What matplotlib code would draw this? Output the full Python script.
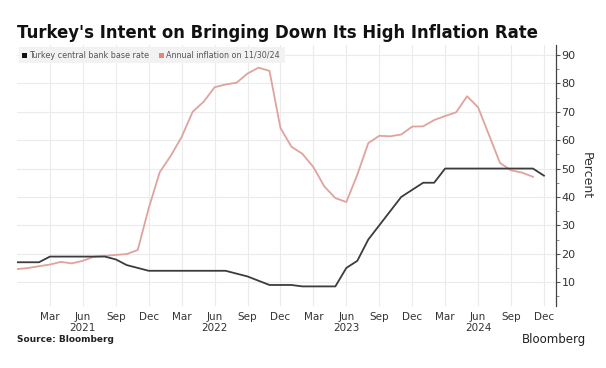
import matplotlib
matplotlib.use("Agg")
import matplotlib.pyplot as plt
from matplotlib.ticker import MultipleLocator
from matplotlib.patches import Rectangle

# Monthly data, Dec 2020 .. Dec 2024
base_rate = [17,
             17, 17, 19, 19, 19, 19, 19, 19, 18, 16, 15, 14,
             14, 14, 14, 14, 14, 14, 14, 13, 12, 10.5, 9, 9,
             9, 8.5, 8.5, 8.5, 8.5, 15, 17.5, 25, 30, 35, 40, 42.5,
             45, 45, 50, 50, 50, 50, 50, 50, 50, 50, 50, 47.5]
inflation = [14.6,
             14.97, 15.61, 16.19, 17.14, 16.59, 17.53, 18.95, 19.25, 19.58, 19.89, 21.31, 36.08,
             48.69, 54.44, 61.14, 69.97, 73.50, 78.62, 79.60, 80.21, 83.45, 85.51, 84.39, 64.27,
             57.68, 55.18, 50.51, 43.68, 39.59, 38.21, 47.83, 58.94, 61.53, 61.36, 61.98, 64.77,
             64.86, 67.07, 68.50, 69.80, 75.45, 71.60, 61.78, 51.97, 49.38, 48.58, 47.09]
tick_pos = [3, 6, 9, 12, 15, 18, 21, 24, 27, 30, 33, 36, 39, 42, 45, 48]
tick_labels = ["Mar", "Jun\n2021", "Sep", "Dec", "Mar", "Jun\n2022", "Sep", "Dec",
               "Mar", "Jun\n2023", "Sep", "Dec", "Mar", "Jun\n2024", "Sep", "Dec"]
y_ticks = [10, 20, 30, 40, 50, 60, 70, 80, 90]

W, H = 606, 368
fig = plt.figure(figsize=(W / 100, H / 100), dpi=100)
ax = fig.add_axes([17 / W, 1 - 306 / H, (556 - 17) / W, (306 - 45) / H])

ax.plot(range(len(inflation)), inflation, color="#dfa39e", lw=1.3, zorder=3)
ax.plot(range(len(base_rate)), base_rate, color="#3c3c3c", lw=1.3, zorder=4)

ax.set_xlim(0, 49.1)
ax.set_ylim(1.6, 93.5)

ax.yaxis.tick_right()
ax.yaxis.set_label_position("right")
ax.set_yticks(y_ticks)
ax.set_yticklabels([str(v) for v in y_ticks])
ax.yaxis.set_minor_locator(MultipleLocator(5))
ax.tick_params(axis="y", which="major", direction="out", length=3, width=0.8,
               color="#555555", labelsize=8, labelcolor="#333333", pad=1)
ax.tick_params(axis="y", which="minor", direction="out", length=2, width=0.6, color="#777777")

ax.set_xticks(tick_pos)
ax.set_xticklabels(tick_labels)
ax.tick_params(axis="x", length=0, labelsize=7.5, labelcolor="#333333", pad=4)

ax.grid(True, color="#ebebeb", lw=0.8, zorder=0)
for s in ["top", "left", "bottom"]:
    ax.spines[s].set_visible(False)
ax.spines["right"].set_color("#444444")
ax.spines["right"].set_linewidth(0.9)

ax.set_ylabel("Percent", rotation=270, labelpad=12, fontsize=9, color="#333333")

# Legend band
fig.patches.append(Rectangle((19 / W, 1 - 63 / H), (285 - 19) / W, 16 / H,
                             transform=fig.transFigure, facecolor="#f2f2f2",
                             edgecolor="none", zorder=5))
fig.patches.append(Rectangle((22 / W, 1 - 58 / H), 5 / W, 5 / H,
                             transform=fig.transFigure, facecolor="#111111", zorder=6))
fig.text(29 / W, 1 - 55.5 / H, "Turkey central bank base rate", fontsize=5.8,
         color="#555555", va="center", ha="left", zorder=7)
fig.patches.append(Rectangle((159 / W, 1 - 58 / H), 5 / W, 5 / H,
                             transform=fig.transFigure, facecolor="#e8827c", zorder=6))
fig.text(166 / W, 1 - 55.5 / H, "Annual inflation on 11/30/24", fontsize=5.8,
         color="#555555", va="center", ha="left", zorder=7)

fig.text(17 / W, 1 - 33 / H, "Turkey's Intent on Bringing Down Its High Inflation Rate",
         fontsize=11.9, fontweight="bold", color="#111111", va="center", ha="left")
fig.text(17 / W, 1 - 340 / H, "Source: Bloomberg", fontsize=6.5, fontweight="bold",
         color="#222222", va="center", ha="left")
fig.text(586 / W, 1 - 340 / H, "Bloomberg", fontsize=8.5, color="#222222",
         va="center", ha="right")

fig.savefig("out.png", dpi=100, facecolor="white")
